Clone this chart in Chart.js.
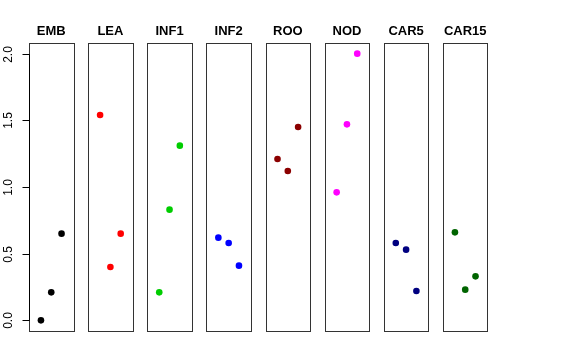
<!DOCTYPE html>
<html>
<head>
<meta charset="utf-8">
<script src="https://cdn.jsdelivr.net/npm/chart.js@4.4.0/dist/chart.umd.min.js"></script>
<style>
  body { margin: 0; background: #fff; }
  #wrap { position: relative; width: 576px; height: 360px; background: #fff; }
  #wrap canvas { position: absolute; left: 0; top: 0; }
</style>
</head>
<body>
<div id="wrap"></div>
<script>
// panel names and their point colours
const panelNames = ['EMB', 'LEA', 'INF1', 'INF2', 'ROO', 'NOD', 'CAR5', 'CAR15'];
const panelColors = ['#000000', '#FF0000', '#00CD00', '#0000FF', '#8B0000', '#FF00FF', '#000080', '#006400'];

// x positions of the three replicates in every panel
const xPositions = [1, 2, 3];

// values, one array per panel
const embValues = [0.00, 0.21, 0.65];
const leaValues = [1.54, 0.40, 0.65];
const inf1Values = [0.21, 0.83, 1.31];
const inf2Values = [0.62, 0.58, 0.41];
const rooValues = [1.21, 1.12, 1.45];
const nodValues = [0.96, 1.47, 2.00];
const car5Values = [0.58, 0.53, 0.22];
const car15Values = [0.66, 0.23, 0.33];
const panelValues = [embValues, leaValues, inf1Values, inf2Values, rooValues, nodValues, car5Values, car15Values];

// y axis ticks (only on the first panel)
const yTicks = [0, 0.5, 1, 1.5, 2];
const yTickLabels = ['0.0', '0.5', '1.0', '1.5', '2.0'];

const W = 576, H = 360;
const firstLeft = 29, pitch = 59.14, panelWidth = 44.5;
const wrap = document.getElementById('wrap');

// draws the box, the panel title and (for the first panel) the y axis
const panelDecor = {
    id: 'panelDecor',
    afterDraw(chart, args, opts) {
        const ctx = chart.ctx;
        const a = chart.chartArea;
        const l = Math.round(a.left) + 0.5, t = Math.round(a.top) + 0.5;
        const r = Math.round(a.right) + 0.5, b = Math.round(a.bottom) + 0.5;
        ctx.save();
        ctx.strokeStyle = '#333';
        ctx.lineWidth = 1;
        ctx.strokeRect(l, t, r - l, b - t);

        ctx.fillStyle = '#000';
        ctx.font = 'bold 13px "Liberation Sans", Arial, sans-serif';
        ctx.textAlign = 'center';
        ctx.textBaseline = 'alphabetic';
        ctx.fillText(opts.title, (a.left + a.right) / 2, 35);

        if (opts.showAxis) {
            const ys = chart.scales.y;
            ctx.strokeStyle = '#000';
            ctx.beginPath();
            ctx.moveTo(l, Math.round(ys.getPixelForValue(yTicks[0])) + 0.5);
            ctx.lineTo(l, Math.round(ys.getPixelForValue(yTicks[yTicks.length - 1])) + 0.5);
            ctx.stroke();
            ctx.font = '12px "Liberation Sans", Arial, sans-serif';
            yTicks.forEach((v, k) => {
                const py = Math.round(ys.getPixelForValue(v)) + 0.5;
                ctx.beginPath();
                ctx.moveTo(l - 7, py);
                ctx.lineTo(l, py);
                ctx.stroke();
                ctx.save();
                ctx.translate(12, py);
                ctx.rotate(-Math.PI / 2);
                ctx.textAlign = 'center';
                ctx.textBaseline = 'alphabetic';
                ctx.fillText(yTickLabels[k], 0, 0);
                ctx.restore();
            });
        }
        ctx.restore();
    }
};

panelNames.forEach((name, i) => {
    const canvas = document.createElement('canvas');
    canvas.width = W;
    canvas.height = H;
    wrap.appendChild(canvas);

    const left = firstLeft + i * pitch;
    const right = W - (left + panelWidth);

    new Chart(canvas, {
        type: 'scatter',
        data: {
            datasets: [{
                data: xPositions.map((x, k) => ({ x: x, y: panelValues[i][k] })),
                backgroundColor: panelColors[i],
                borderWidth: 0,
                pointRadius: 3.3,
            }],
        },
        options: {
            responsive: false,
            animation: false,
            events: [],
            layout: { padding: { left: left, right: right, top: 43, bottom: 29 } },
            scales: {
                x: { type: 'linear', display: false, min: -0.16, max: 4.16 },
                y: { type: 'linear', display: false, min: -0.08, max: 2.08 },
            },
            plugins: {
                legend: { display: false },
                tooltip: { enabled: false },
                panelDecor: { title: name, showAxis: i === 0 },
            },
        },
        plugins: [panelDecor],
    });
});
</script>
</body>
</html>
